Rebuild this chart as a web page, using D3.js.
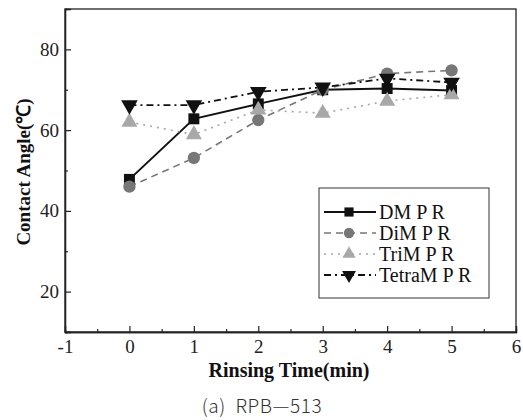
<!DOCTYPE html>
<html>
<head>
<meta charset="utf-8">
<script src="https://cdn.jsdelivr.net/npm/d3@7"></script>
<style>
  body { margin: 0; background: #fff; }
  svg { display: block; }
</style>
</head>
<body>
<svg id="chart"></svg>
<script>
// rinsing time (min)
const times = [0, 1, 2, 3, 4, 5];
const seriesNames = ['DM P R', 'DiM P R', 'TriM P R', 'TetraM P R'];
const dmValues = [47.8, 62.8, 66.5, 70.0, 70.3, 69.8];
const dimValues = [46.0, 53.1, 62.5, 70.0, 74.0, 74.8];
const trimValues = [62.0, 58.9, 65.0, 64.2, 67.2, 68.8];
const tetramValues = [66.2, 66.2, 69.5, 70.6, 72.8, 71.8];
const xTicks = [-1, 0, 1, 2, 3, 4, 5, 6];
const yTicks = [20, 40, 60, 80];

const width = 523, height = 420;
const margin = { top: 9, right: 7, bottom: 88, left: 65 };
const serif = '"Liberation Serif", "Times New Roman", serif';

const svg = d3.select('#chart')
    .attr('width', width)
    .attr('height', height);

const inner_width = width - margin.left - margin.right;
const inner_height = height - margin.top - margin.bottom;

const chart = svg.append('g')
    .attr('transform', `translate(${margin.left}, ${margin.top})`);

const xscale = d3.scaleLinear().domain([-1, 6]).range([0, inner_width]);
const yscale = d3.scaleLinear().domain([10, 90]).range([inner_height, 0]);

// frame
chart.append('rect')
    .attr('width', inner_width)
    .attr('height', inner_height)
    .attr('fill', 'none')
    .attr('stroke', '#222')
    .attr('stroke-width', 1.3);

// axes with inward ticks
const xaxis = d3.axisBottom(xscale).tickValues(xTicks).tickSize(-6).tickPadding(8).tickFormat(d => String(d));
const xminor = d3.axisBottom(xscale).tickValues(d3.range(-0.5, 6, 1)).tickSize(-3).tickFormat('');
const yaxis = d3.axisLeft(yscale).tickValues(yTicks).tickSize(-6).tickPadding(6);
const yminor = d3.axisLeft(yscale).tickValues([30, 50, 70]).tickSize(-3).tickFormat('');

function styleAxis(g) {
    g.attr('font-family', serif).attr('font-size', 19);
    g.select('.domain').attr('stroke', '#222').attr('stroke-width', 1.3);
    g.selectAll('.tick line').attr('stroke', '#222').attr('stroke-width', 1.2);
    g.selectAll('.tick text').attr('fill', '#222');
}

chart.append('g').attr('transform', `translate(0, ${inner_height})`).call(xaxis).call(styleAxis);
chart.append('g').attr('transform', `translate(0, ${inner_height})`).call(xminor).call(styleAxis);
chart.append('g').call(yaxis).call(styleAxis);
chart.append('g').call(yminor).call(styleAxis);

// axis labels
svg.append('text')
    .attr('x', 289)
    .attr('y', 377)
    .attr('text-anchor', 'middle')
    .attr('font-family', serif)
    .attr('font-weight', 'bold')
    .attr('font-size', 20)
    .attr('fill', '#111')
    .text('Rinsing Time(min)');

svg.append('text')
    .attr('transform', `translate(30, 172) rotate(-90)`)
    .attr('text-anchor', 'middle')
    .attr('font-family', serif)
    .attr('font-weight', 'bold')
    .attr('font-size', 19)
    .attr('fill', '#111')
    .text('Contact Angle(℃)');

svg.append('text')
    .attr('x', 262)
    .attr('y', 413)
    .attr('text-anchor', 'middle')
    .attr('font-family', '"Noto Sans CJK KR", "DejaVu Sans", sans-serif')
    .attr('font-weight', 300)
    .attr('font-size', 19)
    .attr('letter-spacing', 0.6)
    .attr('fill', '#333')
    .style('white-space', 'pre')
    .text('(a)  RPB\u2014513');

// series
const series = [
    { name: seriesNames[0], values: dmValues, color: '#111', dash: null, width: 2, symbol: d3.symbolSquare, size: 120, rot: 0 },
    { name: seriesNames[1], values: dimValues, color: '#777', dash: '7,5', width: 1.6, symbol: d3.symbolCircle, size: 120, rot: 0 },
    { name: seriesNames[2], values: trimValues, color: '#a8a8a8', dash: '2,5', width: 1.6, symbol: d3.symbolTriangle, size: 110, rot: 0 },
    { name: seriesNames[3], values: tetramValues, color: '#111', dash: '7,4,2,4', width: 1.8, symbol: d3.symbolTriangle, size: 120, rot: 180 }
];

const line = d3.line()
    .x((d, i) => xscale(times[i]))
    .y(d => yscale(d));

series.forEach(s => {
    chart.append('path')
        .attr('d', line(s.values))
        .attr('fill', 'none')
        .attr('stroke', s.color)
        .attr('stroke-width', s.width)
        .attr('stroke-dasharray', s.dash);
});

series.forEach(s => {
    chart.selectAll(null)
        .data(s.values)
        .join('path')
        .attr('d', d3.symbol().type(s.symbol).size(s.size))
        .attr('transform', (d, i) => `translate(${xscale(times[i])}, ${yscale(d)}) rotate(${s.rot})`)
        .attr('fill', s.color);
});

// legend
const legend = svg.append('g').attr('transform', 'translate(319, 188)');
legend.append('rect')
    .attr('width', 170)
    .attr('height', 110)
    .attr('fill', '#fff')
    .attr('stroke', '#333')
    .attr('stroke-width', 1);

series.forEach((s, i) => {
    const y = 24 + i * 21;
    const row = legend.append('g').attr('transform', `translate(0, ${y})`);
    row.append('line')
        .attr('x1', 5).attr('x2', 57)
        .attr('stroke', s.color)
        .attr('stroke-width', s.width)
        .attr('stroke-dasharray', s.dash);
    row.append('path')
        .attr('d', d3.symbol().type(s.symbol).size(s.size * 0.7))
        .attr('transform', `translate(30, 0) rotate(${s.rot})`)
        .attr('fill', s.color);
    row.append('text')
        .attr('x', 60)
        .attr('y', 6.5)
        .attr('font-family', serif)
        .attr('font-size', 20)
        .attr('fill', '#111')
        .text(s.name);
});
</script>
</body>
</html>
